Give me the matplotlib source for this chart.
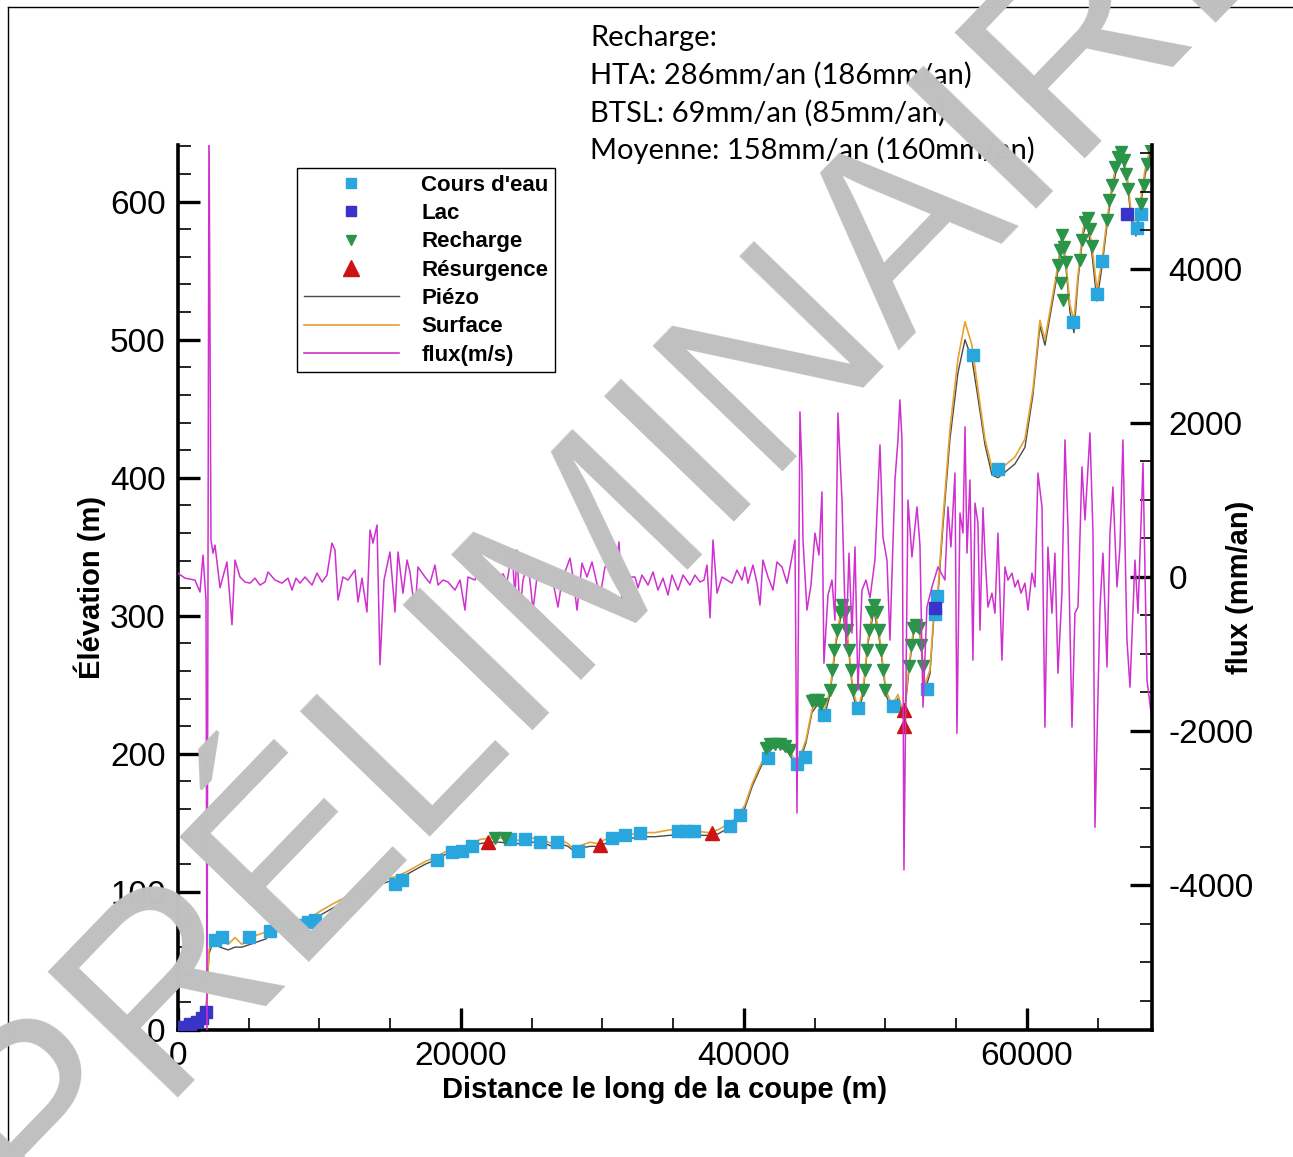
import matplotlib
matplotlib.use('Agg')
import matplotlib.pyplot as plt
from matplotlib.lines import Line2D
from matplotlib.ticker import MultipleLocator
from matplotlib.font_manager import FontProperties

plt.rcParams['axes.unicode_minus'] = False

# ---------------- data ----------------
surf_x = [0, 850, 1555, 1980, 2190, 2475, 2970, 3535, 4030, 4520,
          5090, 5655, 6220, 6640, 7560, 8480, 9330, 10035, 10880, 11800,
          12720, 13570, 14420, 15335, 16045, 16750, 17455, 18160, 18870, 19790,
          20635, 21340, 22050, 22755, 23605, 24310, 25020, 25725, 26430, 26995,
          27560, 28055, 28550, 29115, 29680, 30175, 30880, 31590, 32650, 33710,
          34770, 35830, 36680, 37460, 38160, 38870, 39505, 40070, 40565, 40990,
          41485, 41980, 42545, 43110, 43605, 43955, 44380, 44805, 45230, 45650,
          46080, 46500, 46925, 47350, 47700, 48055, 48410, 48760, 49185, 49610,
          50035, 50460, 50880, 51305, 51660, 52015, 52435, 52790, 53145, 53425,
          53710, 54060, 54555, 55120, 55620, 56110, 56535, 57030, 57525, 57950,
          58445, 59150, 59855, 60420, 60915, 61270, 61765, 62190, 62470, 62755,
          63040, 63320, 63605, 63955, 64240, 64590, 64945, 65300, 65655, 66005,
          66430, 66710, 67070, 67350, 67700, 67985, 68340, 68695, 68835]
surf_z = [1.5, 4, 9, 13, 58, 69, 65, 62, 67, 62,
          67, 69, 71, 76, 78, 78, 81, 86, 91, 96,
          101, 105, 109, 111, 114, 118, 122, 125, 129, 132,
          134, 138, 139, 139, 138, 137, 139, 138, 135, 138,
          135, 130, 134, 136, 135, 138, 140, 141, 143, 143,
          145, 145, 144, 143, 145, 149, 154, 163, 178, 188,
          199, 207, 207, 203, 196, 198, 210, 232, 239, 230,
          246, 283, 308, 283, 246, 233, 246, 283, 308, 283,
          246, 235, 243, 228, 264, 293, 290, 250, 261, 304,
          319, 370, 435, 486, 513, 496, 464, 428, 407, 404,
          409, 415, 428, 464, 514, 500, 529, 554, 578, 556,
          525, 514, 547, 580, 589, 568, 536, 557, 587, 612,
          632, 636, 620, 593, 581, 598, 623, 638, 641]
piezo_z = [1.5, 4, 9, 13, 55, 64, 60, 58, 60, 60,
           62, 64, 66, 72, 75, 75, 78, 83, 88, 93,
           98, 102, 106, 109, 112, 116, 120, 123, 127, 130,
           132, 135, 136, 136, 135, 135, 136, 136, 133, 135,
           133, 129, 132, 133, 133, 135, 137, 138, 140, 140,
           141, 142, 141, 141, 142, 146, 152, 161, 176, 186,
           197, 204, 205, 201, 193, 195, 208, 230, 236, 226,
           243, 280, 304, 280, 243, 229, 243, 280, 304, 280,
           243, 231, 240, 224, 261, 290, 287, 246, 258, 300,
           315, 365, 428, 476, 500, 486, 458, 424, 402, 400,
           404, 410, 422, 460, 510, 496, 525, 550, 574, 552,
           520, 505, 543, 576, 585, 562, 528, 553, 583, 608,
           628, 632, 616, 588, 575, 594, 619, 634, 640]

flux_x = [0, 495, 1200, 1555, 1767, 1980, 2050, 2190, 2330, 2475,
          2615, 2970, 3460, 3815, 4030, 4380, 4735, 5090, 5440, 5795,
          6150, 6360, 6855, 7350, 7775, 8055, 8340, 8620, 8975, 9470,
          9820, 10180, 10530, 10880, 11095, 11310, 11660, 12015, 12510, 12720,
          13005, 13355, 13570, 13780, 14065, 14275, 14560, 14980, 15335, 15550,
          15900, 16185, 16395, 16750, 16960, 17455, 17810, 18160, 18375, 18730,
          19080, 19575, 19930, 20280, 20495, 20990, 21485, 21695, 22050, 22545,
          22970, 23250, 23605, 23815, 23955, 24165, 24380, 24735, 24945, 25090,
          25370, 25725, 26075, 26430, 26855, 27140, 27705, 27915, 28200, 28550,
          28905, 29260, 29820, 30175, 30530, 30880, 31165, 31375, 31590, 31945,
          32295, 32510, 32790, 33215, 33570, 33920, 34275, 34630, 34910, 35335,
          35690, 36180, 36535, 36890, 37170, 37385, 37600, 37810, 38095, 38445,
          38800, 39150, 39505, 39860, 40070, 40280, 40635, 40920, 41130, 41340,
          41695, 42050, 42330, 42685, 43040, 43390, 43605, 43745, 43955, 44095,
          44170, 44450, 44735, 45015, 45300, 45510, 45650, 45935, 46220, 46430,
          46640, 46925, 47210, 47420, 47630, 47845, 48055, 48340, 48620, 48905,
          49255, 49610, 49820, 50105, 50315, 50670, 50880, 51020, 51165, 51305,
          51590, 51870, 52225, 52435, 52650, 52930, 53285, 53710, 54200, 54415,
          54625, 54910, 55050, 55265, 55475, 55620, 55760, 55970, 56180, 56325,
          56535, 56680, 56890, 57030, 57240, 57525, 57735, 57950, 58230, 58445,
          58655, 58940, 59150, 59365, 59575, 59855, 60070, 60350, 60565, 60775,
          61060, 61270, 61480, 61765, 61975, 62190, 62470, 62685, 62895, 63180,
          63390, 63605, 63885, 64100, 64450, 64665, 64805, 65160, 65370, 65655,
          65865, 66075, 66360, 66570, 66780, 67065, 67280, 67630, 67845, 68200,
          68480, 68835]
flux_v = [50, -15, -40, -195, 285, -300, -5900, 6000, 480, 310,
          415, -140, 195, -620, 220, 0, -65, -80, -15, -105,
          -65, 65, -40, -80, -15, -170, -15, -80, 0, -105,
          50, -65, 25, 440, 350, -300, 0, -40, 90, -325,
          -15, -455, 610, 440, 675, -1140, -40, 325, -455, 325,
          -210, 220, 65, -470, 130, 0, -80, 155, -105, -40,
          -65, -170, -40, -430, 0, -40, 260, 0, 25, 0,
          40, -65, 325, -235, 350, -470, -40, 180, -170, -430,
          0, -40, -65, 0, -390, -40, 245, 0, -430, 180,
          0, 195, -260, 130, 180, 0, 455, -300, 130, 0,
          0, -140, 25, -105, 65, -170, -15, -235, 25, -170,
          25, -105, 25, -65, -40, 155, -530, 480, -210, 0,
          -40, -80, 90, -40, 130, -80, 155, -80, -365, 220,
          0, -170, 195, 130, -80, 260, 480, -3065, 2145, 1390,
          480, -430, -105, 570, 285, 1105, -1120, -235, -40, -560,
          2130, 1000, -910, 310, -730, 390, -1470, -170, -40, -270,
          220, 1715, 520, 220, -820, 1260, 1780, 2300, 1780, -3805,
          1000, 260, 910, 415, -1690, -390, -130, 130, -40, 910,
          390, 1350, -2030, 830, 570, 1950, 310, 1260, -1080, 960,
          700, -690, 900, 310, -390, -210, -470, 570, -1080, 130,
          -40, 50, -130, -40, -210, -80, -430, 50, -130, 1350,
          910, -1950, 390, -470, 310, -1250, -210, 1780, 650, -1950,
          -470, -390, 1430, 740, 1870, 570, -3250, -390, 310, -1170,
          570, 1170, -130, 390, 1780, -820, -1430, 220, -470, 1480,
          -1340, -1860]

cours_x = [2615, 3110, 5015, 6500, 7065, 7915, 8620, 9190, 9680, 15335,
           15830, 18300, 19365, 20070, 20775, 23460, 24520, 25580, 26785, 28270,
           30670, 31590, 32650, 35335, 35900, 36465, 39010, 39720, 41695, 43745,
           44310, 45650, 48055, 50530, 52930, 53500, 53640, 56180, 57950, 63250,
           64945, 65300, 67770, 68050]
cours_z = [65, 67, 67, 72, 76, 76, 76, 78, 80, 106,
           109, 123, 129, 130, 133, 138, 138, 136, 136, 130,
           139, 141, 143, 144, 144, 144, 148, 156, 197, 193,
           198, 228, 233, 235, 247, 301, 314, 489, 406, 513,
           533, 557, 581, 591]

lac_x = [350, 850, 1340, 1700, 1980, 53500, 67070]
lac_z = [2, 4, 6, 9, 13, 306, 591]

rech_x = [22400, 23110, 41550, 41840, 42190, 42545, 42900, 43250, 44800, 45015,
          45230, 45440, 46080, 46220, 46360, 46570, 46780, 46925, 47140, 47280,
          47420, 47560, 47700, 48410, 48550, 48690, 48830, 48975, 49185, 49400,
          49540, 49680, 49820, 49965, 51660, 51800, 51945, 52150, 52365, 52505,
          52650, 62190, 62330, 62470, 62615, 62755, 62400, 62540, 63745, 63885,
          64100, 64310, 64450, 64590, 65655, 65795, 66005, 66220, 66430, 66640,
          66850, 67000, 67140, 68055, 68270, 68480, 68695]
rech_z = [139, 139, 204, 207, 207, 207, 206, 203, 238, 239,
          239, 236, 246, 261, 275, 290, 303, 308, 303, 290,
          275, 261, 246, 246, 261, 275, 290, 303, 308, 303,
          290, 275, 261, 246, 264, 279, 291, 293, 291, 279,
          264, 554, 565, 576, 567, 556, 541, 529, 558, 572,
          585, 588, 580, 568, 587, 601, 612, 625, 632, 636,
          630, 620, 609, 598, 612, 627, 638]

res_x = [21900, 29820, 37740, 51305, 51305]
res_z = [136, 134, 143, 232, 220]

legend_labels = ["Cours d'eau", "Lac", "Recharge", "Résurgence", "Piézo", "Surface", "flux(m/s)"]
note_lines = ["Recharge:", "HTA: 286mm/an (186mm/an)", "BTSL: 69mm/an (85mm/an)",
              "Moyenne: 158mm/an (160mm/an)"]

# ---------------- style ----------------
c_cours = '#2aa6de'
c_lac = '#3a33c8'
c_rech = '#2a9448'
c_res = '#cc1414'
c_piezo = '#4a4a4a'
c_surf = '#e6a12e'
c_flux = '#d030d0'

W, H = 1293, 1157
fig = plt.figure(figsize=(W / 100, H / 100), dpi=100)
ax = fig.add_axes([178 / W, 1 - 1030 / H, (1152 - 178) / W, (1030 - 145) / H])
ax2 = ax.twinx()

ax.set_xlim(0, 68835)
ax.set_ylim(0, 641)
ax2.set_ylim(-5883, 5610)

# profile
ax.plot(surf_x, piezo_z, color=c_piezo, lw=1.0, zorder=3)
ax.plot(surf_x, surf_z, color=c_surf, lw=1.2, zorder=3)
ax.plot(cours_x, cours_z, ls='none', marker='s', ms=8, color=c_cours, zorder=4)
ax.plot(lac_x, lac_z, ls='none', marker='s', ms=8, color=c_lac, zorder=4)
ax.plot(rech_x, rech_z, ls='none', marker='v', ms=8, color=c_rech, zorder=4)
ax.plot(res_x, res_z, ls='none', marker='^', ms=10, color=c_res, zorder=5)

# flux
ax2.plot(flux_x, flux_v, color=c_flux, lw=1.1, zorder=2)

tick_font = 'Liberation Sans'
for a in (ax, ax2):
    a.spines['top'].set_visible(False)
ax.spines['right'].set_visible(False)
ax2.spines['left'].set_visible(False)
ax2.spines['bottom'].set_visible(False)
for s in ('left', 'bottom'):
    ax.spines[s].set_linewidth(2.6)
ax2.spines['right'].set_linewidth(2.6)

ax.xaxis.set_major_locator(MultipleLocator(20000))
ax.xaxis.set_minor_locator(MultipleLocator(5000))
ax.yaxis.set_major_locator(MultipleLocator(100))
ax.yaxis.set_minor_locator(MultipleLocator(20))
ax2.yaxis.set_major_locator(MultipleLocator(2000))
ax2.yaxis.set_minor_locator(MultipleLocator(500))

ax.tick_params(axis='x', which='major', direction='in', length=16, width=2.4, labelsize=24, pad=8)
ax.tick_params(axis='x', which='minor', direction='in', length=9, width=1.2)
ax.tick_params(axis='y', which='major', direction='in', length=16, width=2.4, labelsize=24, pad=9,
               left=True, right=False)
ax.tick_params(axis='y', which='minor', direction='in', length=9, width=1.2, left=True, right=False)
ax2.tick_params(axis='y', which='major', direction='in', length=16, width=2.4, labelsize=24, pad=12)
ax2.tick_params(axis='y', which='minor', direction='in', length=9, width=1.2)
for lab in ax.get_xticklabels() + ax.get_yticklabels() + ax2.get_yticklabels():
    lab.set_fontfamily(tick_font)

lab_font = dict(family='Liberation Sans', weight='bold', size=21)
ax.set_xlabel('Distance le long de la coupe (m)', **lab_font)
ax.set_ylabel('Élévation (m)', **lab_font)
ax2.set_ylabel('flux (mm/an)', **lab_font)
ax.xaxis.set_label_coords((665 - 178) / 974, (1030 - 1090) / 885)
ax.yaxis.set_label_coords((90 - 178) / 974, 0.5)
ax2.yaxis.set_label_coords((1240 - 178) / 974, 0.5)
ax2.yaxis.label.set_verticalalignment('center')
ax.yaxis.label.set_verticalalignment('center')
ax.xaxis.label.set_verticalalignment('center')

# legend
handles = [
    Line2D([], [], ls='none', marker='s', ms=7, color=c_cours),
    Line2D([], [], ls='none', marker='s', ms=7, color=c_lac),
    Line2D([], [], ls='none', marker='v', ms=7, color=c_rech),
    Line2D([], [], ls='none', marker='^', ms=11, color=c_res),
    Line2D([], [], color=c_piezo, lw=1.0),
    Line2D([], [], color=c_surf, lw=1.2),
    Line2D([], [], color=c_flux, lw=1.2),
]
leg = ax2.legend(handles, legend_labels, loc='upper left',
                 bbox_to_anchor=(297 / W, 1 - 168 / H), bbox_transform=fig.transFigure,
                 prop=FontProperties(family='Liberation Sans', weight='bold', size=16),
                 frameon=True, fancybox=False, edgecolor='black', framealpha=1,
                 borderpad=0.3, handlelength=4.3, handletextpad=1.0,
                 labelspacing=0.33, borderaxespad=0)
leg.get_frame().set_linewidth(1.0)
leg.set_zorder(10)

# note text
for i, line in enumerate(note_lines):
    fig.text(590 / W, 1 - (38 + 37.5 * i) / H, line, ha='left', va='center',
             family='Lato', fontsize=21, color='black')

# frame lines of the picture
fig.add_artist(Line2D([8 / W, 8 / W], [1 - 1150 / H, 1 - 7 / H], transform=fig.transFigure,
                      color='black', lw=1.0))
fig.add_artist(Line2D([8 / W, 1.0], [1 - 7 / H, 1 - 7 / H], transform=fig.transFigure,
                      color='black', lw=1.0))

# watermark
fig.text(628 / W, 1 - 512 / H, 'PRÉLIMINAIRE', ha='center', va='center',
         rotation=46, rotation_mode='anchor', family='Liberation Sans',
         fontsize=188, color='#c0c0c0', zorder=20)

fig.savefig('out.png', dpi=100)
